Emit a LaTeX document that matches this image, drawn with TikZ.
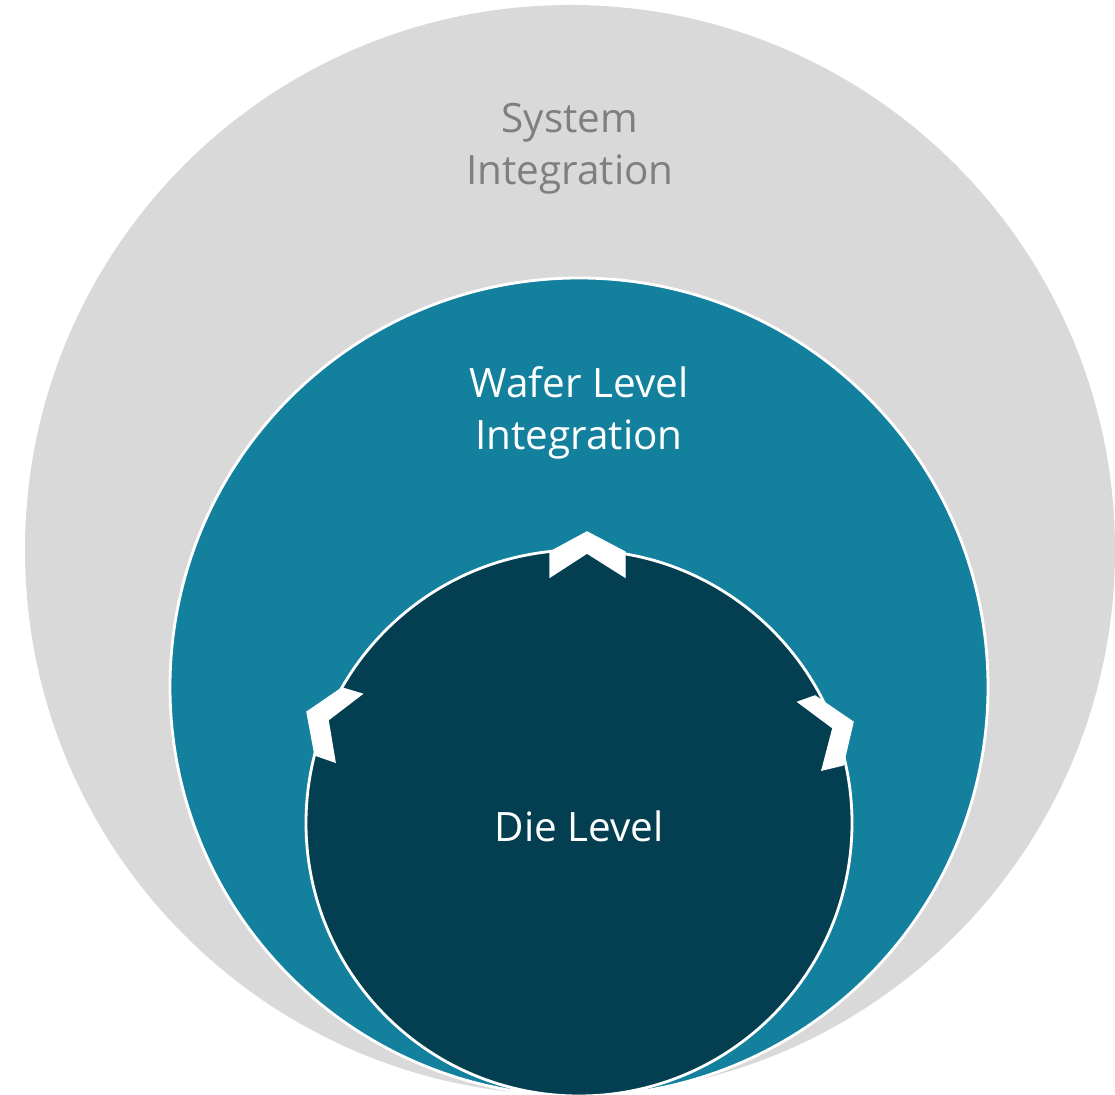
\documentclass[tikz,border=0pt]{standalone}
\usepackage{fontspec}
\setmainfont{Open Sans}
\definecolor{cgray}{HTML}{D9D9D9}
\definecolor{cteal}{HTML}{13809E}
\definecolor{cdark}{HTML}{033F50}
\definecolor{ctext}{HTML}{7F7F7F}
\begin{document}
\begin{tikzpicture}[x=0.01cm,y=-0.01cm,
  ring/.style={circle,inner sep=0pt,draw=white,line width=0.8pt},
  lbl/.style={align=center,font=\fontsize{11.5}{14.8}\selectfont},
  chev/.style={fill=white,draw=white,line width=0.4pt,line join=miter}]
\useasboundingbox (0,0) rectangle (1115,1095);
\node[ring,draw=none,fill=cgray,minimum size=1090*0.01cm] (outer) at (570,550) {};
\node[ring,fill=cteal,minimum size=818*0.01cm] (middle) at (579,687) {};
\node[ring,fill=cdark,minimum size=546*0.01cm] (inner) at (579,823) {};
\node[lbl,text=ctext] (tsys) at (570,149) {System\\Integration};
\node[lbl,text=white] (twaf) at (579,413) {Wafer Level\\Integration};
\node[lbl,text=white] (tdie) at (579,826) {Die Level};
% chevrons
\path[chev] (550,577) -- (550,552) -- (587,532) -- (625,552) -- (625,577) -- (587,553) -- cycle;
\path[chev] (307,712) -- (342,688) -- (362,694) -- (328,720) -- (335,762) -- (315,755) -- cycle;
\path[chev] (798,702) -- (815,696) -- (853,722) -- (843,765) -- (822,770) -- (833,728) -- cycle;
\end{tikzpicture}
\end{document}
